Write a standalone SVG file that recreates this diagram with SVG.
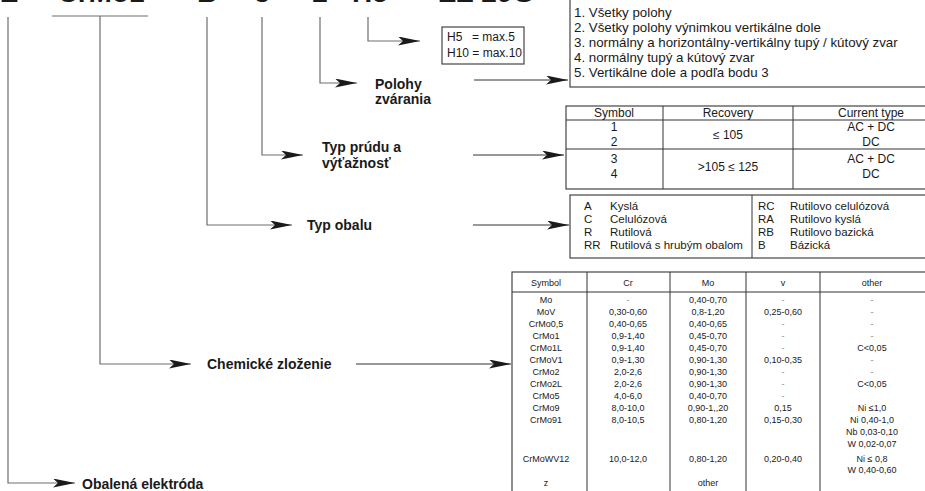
<svg xmlns="http://www.w3.org/2000/svg" width="925" height="491" viewBox="0 0 925 491">
<style>
text{font-family:"Liberation Sans",Arial,Helvetica,sans-serif;fill:#1a1a1a}
.code{font-size:28px;font-weight:bold;text-anchor:middle}
.lbl{font-size:14px;font-weight:bold}
.conn{stroke:#6e6e6e;stroke-width:1.2;fill:none}
.lng{stroke:#333;stroke-width:1;fill:none}
.box{fill:#fff;stroke:#333;stroke-width:1.1}
.grid{stroke:#333;stroke-width:1;fill:none}
.t13{font-size:13.3px}
.t12{font-size:12px}
.t11{font-size:11.5px}
.tc{font-size:12px;text-anchor:middle}
.t9{font-size:9px;text-anchor:middle}
.dash{fill:#888}
</style>
<defs>
<marker id="ah" markerUnits="userSpaceOnUse" markerWidth="24" markerHeight="10" refX="22" refY="4.5" orient="auto">
<path d="M0,0 L22,4.5 L0,9 L5,4.5 Z" fill="#1a1a1a"/>
</marker>
</defs>

<g id="code">
<text class="code" x="9" y="2">E</text>
<text class="code" x="101" y="2">CrMo1</text>
<text class="code" x="207" y="2">B</text>
<text class="code" x="262" y="2">3</text>
<text class="code" x="320" y="2">2</text>
<text class="code" x="370" y="2">H5</text>
<text class="code" x="486" y="2">EZ 29G</text>
</g>

<g id="connectors">
<path class="conn" d="M52,16 H148"/>
<path class="conn" d="M8,17 V483 H75" marker-end="url(#ah)"/>
<path class="conn" d="M100,16 V364 H191" marker-end="url(#ah)"/>
<path class="conn" d="M207,17 V225 H292" marker-end="url(#ah)"/>
<path class="conn" d="M262,17 V155 H303" marker-end="url(#ah)"/>
<path class="conn" d="M320,17 V83 H357" marker-end="url(#ah)"/>
<path class="conn" d="M368,17 V41 H420" marker-end="url(#ah)"/>
<path class="lng" d="M474,80 H568" marker-end="url(#ah)"/>
<path class="lng" d="M473,155 H564" marker-end="url(#ah)"/>
<path class="lng" d="M473,225 H569" marker-end="url(#ah)"/>
<path class="lng" d="M356,364 H511" marker-end="url(#ah)"/>
</g>

<g id="label-obalena"><text class="lbl" x="82" y="489">Obalená elektróda</text></g>
<g id="label-chemicke"><text class="lbl" x="207" y="369">Chemické zloženie</text></g>
<g id="label-typobalu"><text class="lbl" x="307" y="230">Typ obalu</text></g>
<g id="label-typprudu"><text class="lbl" x="322" y="152">Typ prúdu a</text><text class="lbl" x="322" y="168">výťažnosť</text></g>
<g id="label-polohy"><text class="lbl" x="375" y="89">Polohy</text><text class="lbl" x="375" y="104">zvárania</text></g>

<g id="box-hydrogen">
<rect class="box" x="442" y="27" width="82" height="37"/>
<text class="t12" x="447" y="41">H5</text><text class="t12" x="472" y="41">= max.5</text>
<text class="t12" x="447" y="57">H10 = max.10</text>
</g>

<g id="box-polohy">
<rect class="box" x="570" y="-2" width="362" height="89"/>
<text class="t13" x="574" y="17">1. Všetky polohy</text>
<text class="t13" x="574" y="32">2. Všetky polohy výnimkou vertikálne dole</text>
<text class="t13" x="574" y="47">3. normálny a horizontálny-vertikálny tupý / kútový zvar</text>
<text class="t13" x="574" y="62">4. normálny tupý a kútový zvar</text>
<text class="t13" x="574" y="77">5. Vertikálne dole a podľa bodu  3</text>
</g>

<g id="table-prud">
<rect class="box" x="566" y="106" width="366" height="83"/>
<path class="grid" d="M566,120 H932 M566,149 H932 M663,106 V189 M793,106 V189"/>
<text class="tc" x="614" y="117">Symbol</text>
<text class="tc" x="728" y="117">Recovery</text>
<text class="tc" x="871" y="117">Current type</text>
<text class="tc" x="614" y="131">1</text>
<text class="tc" x="614" y="146">2</text>
<text class="tc" x="614" y="163">3</text>
<text class="tc" x="614" y="178">4</text>
<text class="tc" x="728" y="139">≤ 105</text>
<text class="tc" x="728" y="171">&gt;105 ≤ 125</text>
<text class="tc" x="871" y="131">AC + DC</text>
<text class="tc" x="871" y="146">DC</text>
<text class="tc" x="871" y="163">AC + DC</text>
<text class="tc" x="871" y="178">DC</text>
</g>

<g id="box-obal">
<rect class="box" x="570" y="195" width="362" height="63"/>
<path class="grid" d="M752,195 V258"/>
<text class="t11" x="584" y="210">A</text><text class="t11" x="610" y="210">Kyslá</text>
<text class="t11" x="584" y="223">C</text><text class="t11" x="610" y="223">Celulózová</text>
<text class="t11" x="584" y="236">R</text><text class="t11" x="610" y="236">Rutilová</text>
<text class="t11" x="584" y="249">RR</text><text class="t11" x="610" y="249">Rutilová s hrubým obalom</text>
<text class="t11" x="758" y="210">RC</text><text class="t11" x="790" y="210">Rutilovo celulózová</text>
<text class="t11" x="758" y="223">RA</text><text class="t11" x="790" y="223">Rutilovo kyslá</text>
<text class="t11" x="758" y="236">RB</text><text class="t11" x="790" y="236">Rutilovo bazická</text>
<text class="t11" x="758" y="249">B</text><text class="t11" x="790" y="249">Bázická</text>
</g>

<g id="table-chem">
<rect class="box" x="512" y="272" width="424" height="230"/>
<path class="grid" d="M512,292 H936 M587,272 V495 M670,272 V495 M746,272 V495 M820,272 V495"/>
<text class="t9" x="546" y="286">Symbol</text>
<text class="t9" x="628" y="286">Cr</text>
<text class="t9" x="708" y="286">Mo</text>
<text class="t9" x="783" y="286">v</text>
<text class="t9" x="872" y="286">other</text>

<text class="t9" x="546" y="303">Mo</text><text class="t9 dash" x="628" y="303">-</text><text class="t9" x="708" y="303">0,40-0,70</text><text class="t9 dash" x="783" y="303">-</text><text class="t9 dash" x="872" y="303">-</text>
<text class="t9" x="546" y="315">MoV</text><text class="t9" x="628" y="315">0,30-0,60</text><text class="t9" x="708" y="315">0,8-1,20</text><text class="t9" x="783" y="315">0,25-0,60</text><text class="t9 dash" x="872" y="315">-</text>
<text class="t9" x="546" y="327">CrMo0,5</text><text class="t9" x="628" y="327">0,40-0,65</text><text class="t9" x="708" y="327">0,40-0,65</text><text class="t9 dash" x="783" y="327">-</text><text class="t9 dash" x="872" y="327">-</text>
<text class="t9" x="546" y="339">CrMo1</text><text class="t9" x="628" y="339">0,9-1,40</text><text class="t9" x="708" y="339">0,45-0,70</text><text class="t9 dash" x="783" y="339">-</text><text class="t9 dash" x="872" y="339">-</text>
<text class="t9" x="546" y="351">CrMo1L</text><text class="t9" x="628" y="351">0,9-1,40</text><text class="t9" x="708" y="351">0,45-0,70</text><text class="t9 dash" x="783" y="351">-</text><text class="t9" x="872" y="351">C&lt;0,05</text>
<text class="t9" x="546" y="363">CrMoV1</text><text class="t9" x="628" y="363">0,9-1,30</text><text class="t9" x="708" y="363">0,90-1,30</text><text class="t9" x="783" y="363">0,10-0,35</text><text class="t9 dash" x="872" y="363">-</text>
<text class="t9" x="546" y="375">CrMo2</text><text class="t9" x="628" y="375">2,0-2,6</text><text class="t9" x="708" y="375">0,90-1,30</text><text class="t9 dash" x="783" y="375">-</text><text class="t9 dash" x="872" y="375">-</text>
<text class="t9" x="546" y="387">CrMo2L</text><text class="t9" x="628" y="387">2,0-2,6</text><text class="t9" x="708" y="387">0,90-1,30</text><text class="t9 dash" x="783" y="387">-</text><text class="t9" x="872" y="387">C&lt;0,05</text>
<text class="t9" x="546" y="399">CrMo5</text><text class="t9" x="628" y="399">4,0-6,0</text><text class="t9" x="708" y="399">0,40-0,70</text><text class="t9 dash" x="783" y="399">-</text>
<text class="t9" x="546" y="411">CrMo9</text><text class="t9" x="628" y="411">8,0-10,0</text><text class="t9" x="708" y="411">0,90-1,,20</text><text class="t9" x="783" y="411">0,15</text><text class="t9" x="872" y="411">Ni ≤1,0</text>
<text class="t9" x="546" y="423">CrMo91</text><text class="t9" x="628" y="423">8,0-10,5</text><text class="t9" x="708" y="423">0,80-1,20</text><text class="t9" x="783" y="423">0,15-0,30</text><text class="t9" x="872" y="423">Ni 0,40-1,0</text>
<text class="t9" x="872" y="435">Nb 0,03-0,10</text>
<text class="t9" x="872" y="447">W 0,02-0,07</text>
<text class="t9" x="546" y="462">CrMoWV12</text><text class="t9" x="628" y="462">10,0-12,0</text><text class="t9" x="708" y="462">0,80-1,20</text><text class="t9" x="783" y="462">0,20-0,40</text><text class="t9" x="872" y="462">Ni ≤ 0,8</text>
<text class="t9" x="872" y="473">W 0,40-0,60</text>
<text class="t9" x="546" y="486">z</text><text class="t9" x="708" y="486">other</text>
</g>
</svg>
